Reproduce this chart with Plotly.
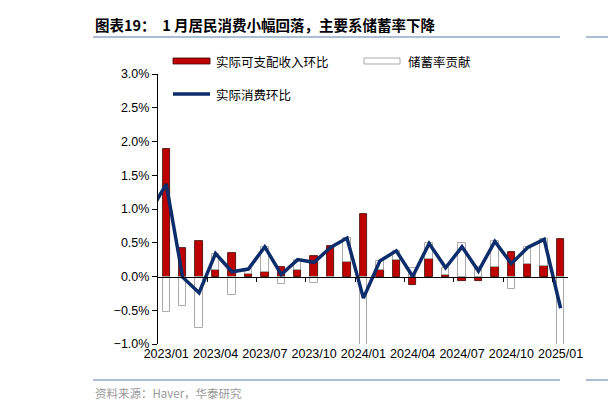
import plotly.graph_objects as go

months = ["2023/01","2023/02","2023/03","2023/04","2023/05","2023/06","2023/07","2023/08","2023/09",
          "2023/10","2023/11","2023/12","2024/01","2024/02","2024/03","2024/04","2024/05","2024/06",
          "2024/07","2024/08","2024/09","2024/10","2024/11","2024/12","2025/01"]
income = [1.89,0.42,0.53,0.09,0.35,0.04,0.06,0.14,0.09,0.31,0.45,0.22,0.92,0.09,0.25,-0.13,0.26,0.02,
          -0.06,-0.06,0.14,0.37,0.19,0.15,0.56]
saving = [-0.53,-0.43,-0.77,0.25,-0.28,0.07,0.38,-0.11,0.16,-0.10,-0.02,0.35,-1.24,0.14,0.13,0.13,0.23,
          0.11,0.50,0.14,0.38,-0.18,0.24,0.40,-1.03]
consumption_prev = 0.95  # 2022/12
consumption = [1.37,-0.01,-0.24,0.34,0.07,0.11,0.44,0.03,0.25,0.21,0.43,0.57,-0.32,0.23,0.38,0.0,0.49,
               0.13,0.44,0.08,0.52,0.19,0.43,0.55,-0.47]
tick_labels = ["2023/01","2023/04","2023/07","2023/10","2024/01","2024/04","2024/07","2024/10","2025/01"]
series_names = ["实际可支配收入环比", "储蓄率贡献", "实际消费环比"]

idx = list(range(len(months)))
font = "Noto Sans CJK SC"
RED, RED_EDGE, GRAY, NAVY = "#c00000", "#3a0000", "#aaaaaa", "#0c2c6b"

L, R, T, B = 150, 560, 66, 336
def px(x): return (x - L) / (R - L)
def py(y): return 1 - (y - T) / (B - T)

fig = go.Figure()
fig.add_bar(x=idx, y=income, name=series_names[0], width=0.45,
            marker=dict(color=RED, line=dict(color=RED_EDGE, width=0.8)))
fig.add_bar(x=idx, y=saving, name=series_names[1], width=0.45,
            marker=dict(color="rgba(255,255,255,0)", line=dict(color=GRAY, width=1)))
fig.add_scatter(x=[-1] + idx, y=[consumption_prev] + consumption, name=series_names[2], mode="lines",
                line=dict(color=NAVY, width=3.5))
fig.add_scatter(x=[None], y=[None], xaxis="x2", showlegend=False)

fig.update_layout(
    width=616, height=403, barmode="relative", bargap=0, showlegend=False,
    margin=dict(l=L, r=616 - R, t=T, b=403 - B, autoexpand=False),
    paper_bgcolor="white", plot_bgcolor="white",
    font=dict(family=font, size=12, color="black"),
    xaxis=dict(range=[-0.5, 24.45], tickmode="array", tickvals=idx[::3], ticktext=tick_labels,
               showline=False, ticks="", showgrid=False, zeroline=False,
               tickfont=dict(family="Liberation Sans", size=12.5)),
    xaxis2=dict(range=[-0.5, 24.45], overlaying="x", anchor="free", position=0.25,
                tickmode="array", tickvals=[i - 0.5 for i in range(3, 25, 3)], showticklabels=False,
                ticks="outside", ticklen=4, tickcolor="black", showline=True, linecolor="black",
                linewidth=1.2, showgrid=False, zeroline=False),
    yaxis=dict(range=[-1, 3], dtick=0.5, tickformat=".1f", ticksuffix="%", showgrid=False,
               zeroline=False, showline=True, linecolor="black", linewidth=1.2, ticks="outside",
               ticklen=5, tickcolor="black", tickfont=dict(family="Liberation Sans", size=12.5)),
)

# manual legend
fig.add_shape(type="rect", xref="paper", yref="paper", x0=px(165), x1=px(202), y0=py(56), y1=py(50),
              fillcolor=RED, line=dict(color=RED_EDGE, width=0.8))
fig.add_shape(type="rect", xref="paper", yref="paper", x0=px(356), x1=px(392), y0=py(56), y1=py(50),
              fillcolor="white", line=dict(color=GRAY, width=1))
fig.add_shape(type="line", xref="paper", yref="paper", x0=px(165), x1=px(202), y0=py(86), y1=py(86),
              line=dict(color=NAVY, width=3.5))
for name, x, y in ((series_names[0], 206, 53), (series_names[1], 398, 53), (series_names[2], 206, 86)):
    fig.add_annotation(text=name, xref="paper", yref="paper", x=px(x), y=py(y), xanchor="left",
                       yanchor="middle", showarrow=False, font=dict(family=font, size=12.5))

fig.add_annotation(text="<b>图表19：  1 月居民消费小幅回落，主要系储蓄率下降</b>", xref="paper", yref="paper",
                   x=px(85), y=py(17), xanchor="left", yanchor="middle", showarrow=False,
                   font=dict(family=font, size=14.5, color="black"))
fig.add_annotation(text="资料来源：Haver，华泰研究", xref="paper", yref="paper",
                   x=px(85), y=py(385), xanchor="left", yanchor="middle", showarrow=False,
                   font=dict(family=font, size=11.5, color="#999999"))
fig.add_annotation(text="<b>图</b>", xref="paper", yref="paper", x=px(602), y=py(17),
                   xanchor="left", yanchor="middle", showarrow=False, font=dict(family=font, size=14.5))
for y0 in (29, 372):
    for x0, x1 in ((85, 552), (578, 616)):
        fig.add_shape(type="line", xref="paper", yref="paper",
                      x0=px(x0), x1=px(x1), y0=py(y0), y1=py(y0),
                      line=dict(color="#8fa8c8", width=1.5))

fig.write_html("out.html")
